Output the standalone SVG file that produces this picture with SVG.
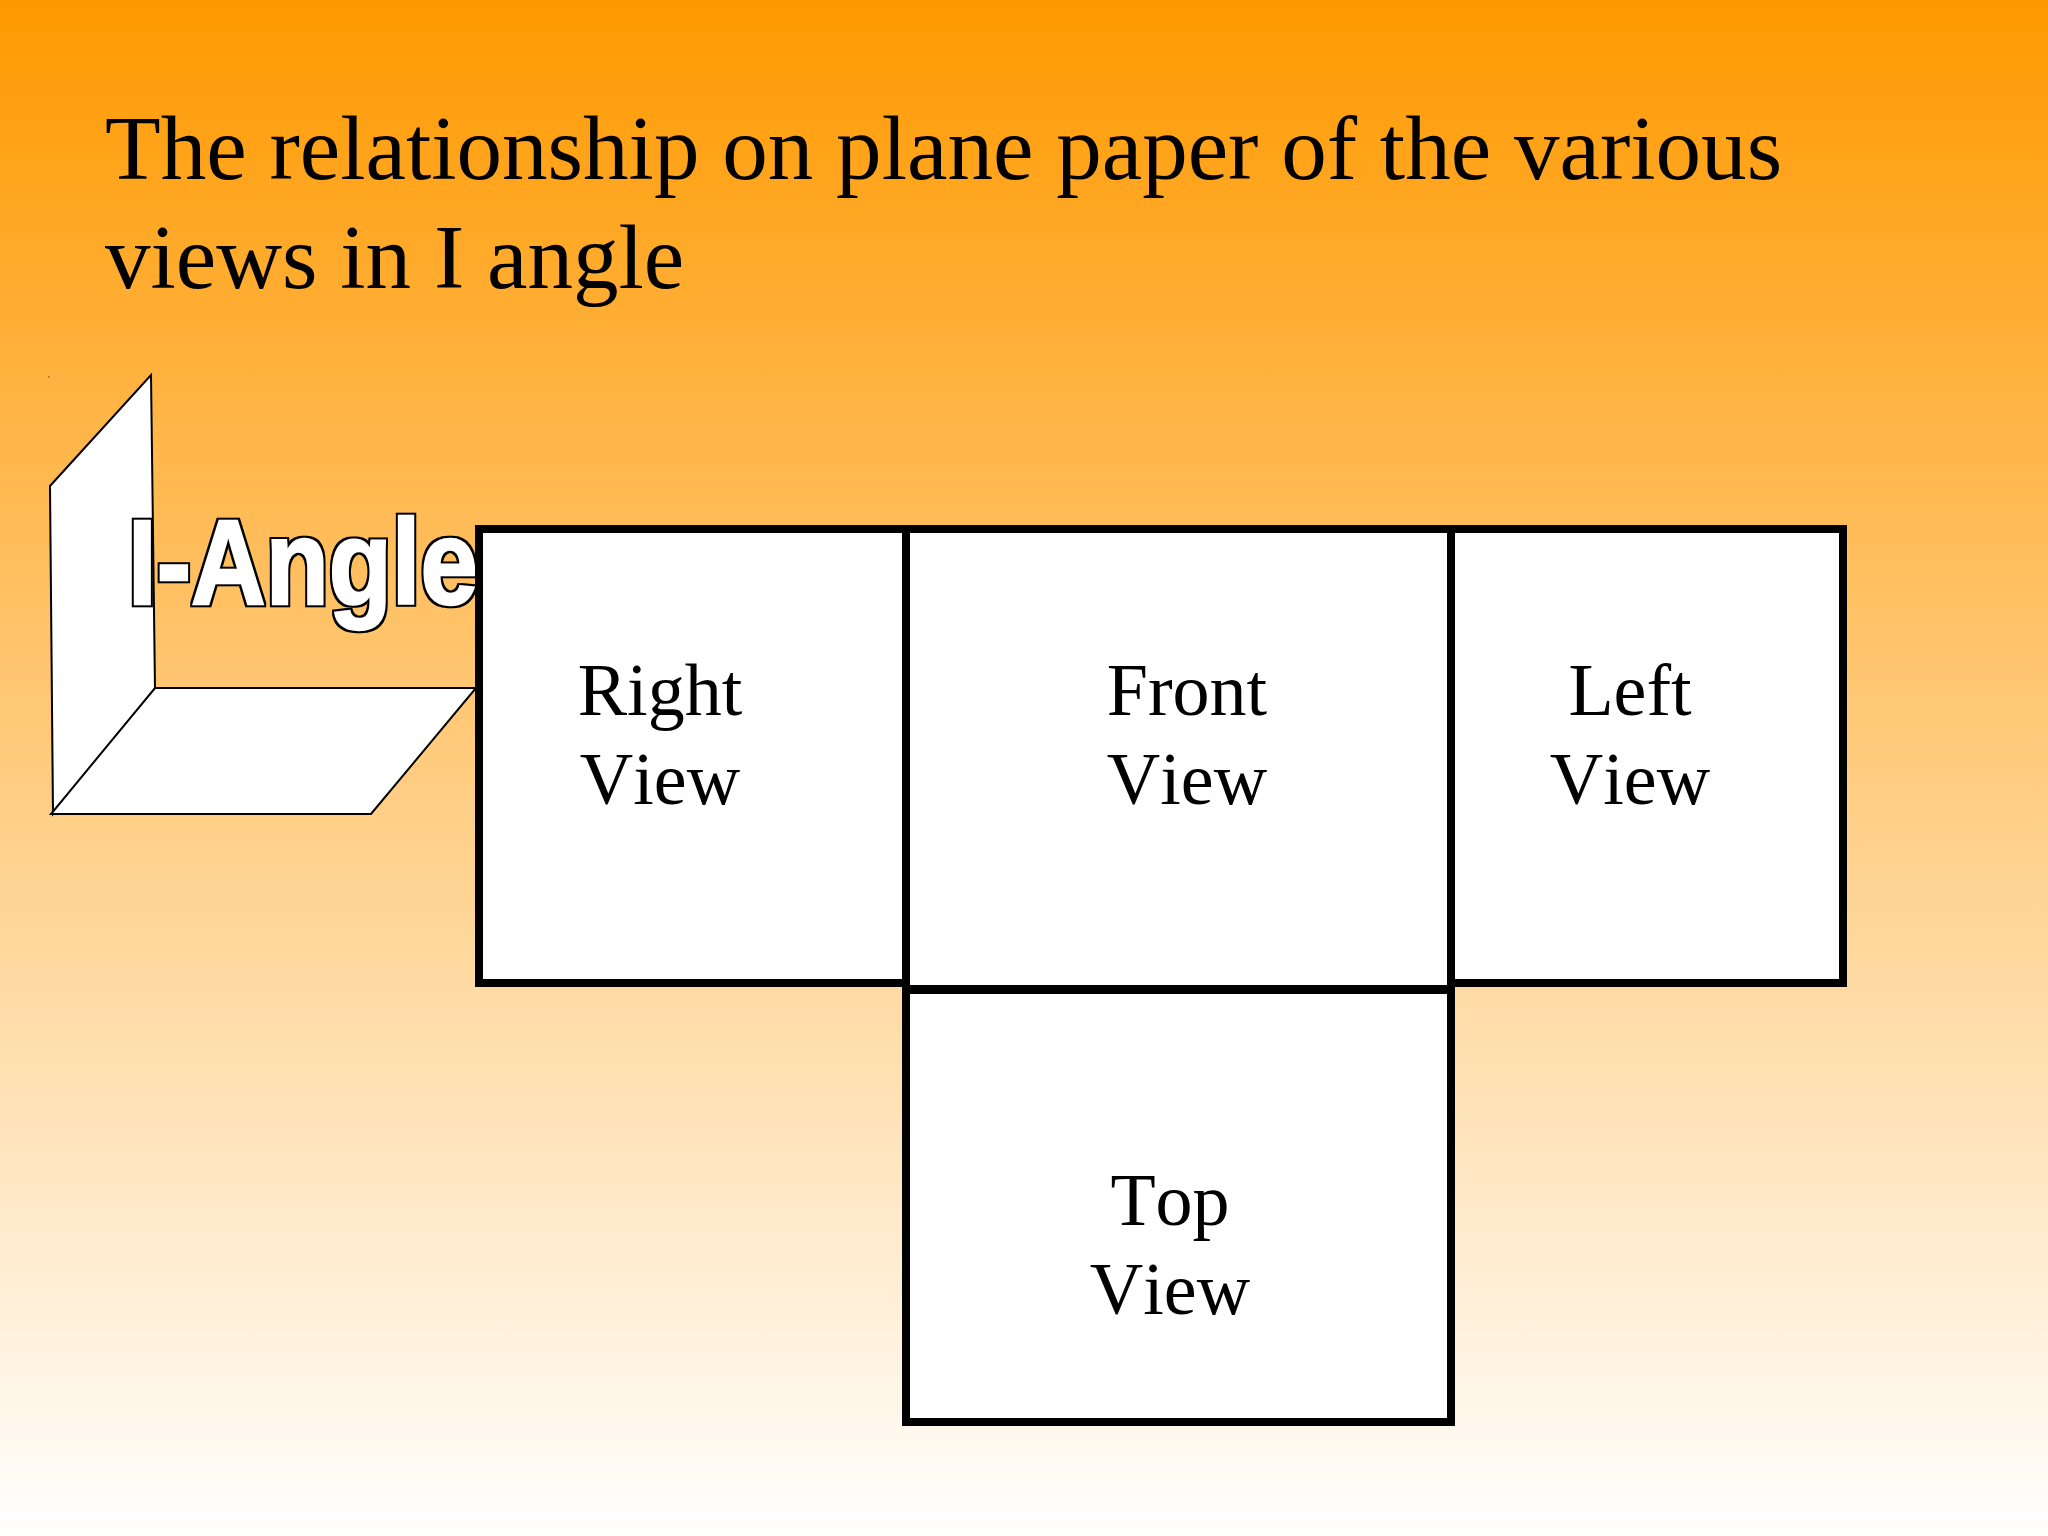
<svg xmlns="http://www.w3.org/2000/svg" width="2048" height="1536" viewBox="0 0 2048 1536">
<style>
.title{font-family:"Liberation Serif","Times New Roman",serif;font-size:91.1px;fill:#000}
.lab{font-family:"Liberation Serif","Times New Roman",serif;font-size:74px;font-kerning:none;fill:#000;text-anchor:middle}
.plane{fill:#fff;stroke:#000;stroke-width:2;stroke-linejoin:miter}
.view{fill:#fff;stroke:#000;stroke-width:8;stroke-linejoin:miter}
.wa{font-family:"Liberation Sans",Arial,sans-serif;font-weight:bold;font-size:120px;fill:#fff;stroke:#fff;stroke-width:2.5;stroke-linejoin:miter;filter:url(#outline)}
</style>
<defs>
<linearGradient id="bg" x1="0" y1="0" x2="0" y2="1"><stop offset="0" stop-color="#ff9900"/><stop offset="1" stop-color="#ffffff"/></linearGradient>
<filter id="outline" x="-5%" y="-10%" width="110%" height="120%" color-interpolation-filters="sRGB">
<feMorphology in="SourceAlpha" operator="dilate" radius="1.5" result="grown"/>
<feFlood flood-color="#000"/>
<feComposite in2="grown" operator="in" result="edge"/>
<feMerge><feMergeNode in="edge"/><feMergeNode in="SourceGraphic"/></feMerge>
</filter>
</defs>
<rect id="background" width="2048" height="1536" fill="url(#bg)"/>
<g id="title"><text class="title" x="105" y="179">The relationship on plane paper of the various</text><text class="title" x="105" y="288">views in I angle</text></g>
<g id="angle-model">
<rect x="48" y="376" width="1.5" height="1.5" fill="#a0703a"/>
<polygon class="plane" points="151,375 155,689 53,814 50,486"/>
<polygon class="plane" points="155,688 476,688 371,814 51,814"/>
<text id="i-angle" class="wa" x="128" y="604" textLength="350" lengthAdjust="spacingAndGlyphs">I-Angle</text>
</g>
<g id="right-view"><rect class="view" x="479" y="529" width="427" height="454"/><text class="lab" x="660" y="715">Right</text><text class="lab" x="660" y="804">View</text></g>
<g id="left-view"><rect class="view" x="1451" y="529" width="392" height="454"/><text class="lab" x="1630" y="715">Left</text><text class="lab" x="1630" y="804">View</text></g>
<g id="front-view"><rect class="view" x="906" y="529" width="545" height="460"/><text class="lab" x="1187" y="715">Front</text><text class="lab" x="1187" y="804">View</text></g>
<g id="top-view"><rect class="view" x="906" y="990" width="545" height="432"/><text class="lab" x="1170" y="1225">Top</text><text class="lab" x="1170" y="1314">View</text></g>
<g id="connectors"/>
</svg>
